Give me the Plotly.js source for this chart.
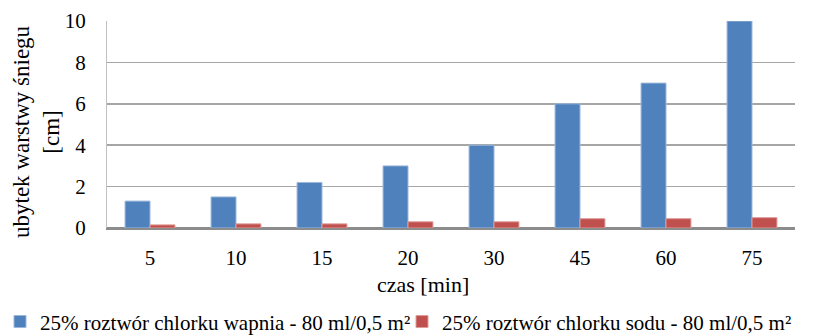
<!DOCTYPE html>
<html>
<head>
<meta charset="utf-8">
<script src="https://cdn.plot.ly/plotly-3.0.1.min.js"></script>
<style>html,body{margin:0;padding:0;background:#fff;}#chart{width:820px;height:336px;}</style>
</head>
<body>
<div id="chart"></div>
<script>
var categories = ["5", "10", "15", "20", "30", "45", "60", "75"];
var calciumValues = [1.3, 1.5, 2.2, 3.0, 4.0, 6.0, 7.0, 10.0];
var sodiumValues = [0.15, 0.2, 0.2, 0.3, 0.3, 0.45, 0.45, 0.5];
var seriesNames = ["25% roztwór chlorku wapnia - 80 ml/0,5 m²", "25% roztwór chlorku sodu - 80 ml/0,5 m²"];
var yTickValues = [0, 2, 4, 6, 8, 10];
var yTitle = "ubytek warstwy śniegu<br>[cm]";
var xTitle = "czas [min]";

var FONT = "Liberation Serif";

var traces = [
  {type: "bar", x: categories, y: calciumValues, name: seriesNames[0], legend: "legend",
   marker: {color: "#4F81BD", line: {color: "#9DB7DA", width: 1}}},
  {type: "bar", x: categories, y: sodiumValues, name: seriesNames[1], legend: "legend2",
   marker: {color: "#C0504D", line: {color: "#DE9C9A", width: 1}}}
];

var legendBase = {orientation: "h", xref: "container", yref: "container", y: 0.042,
  xanchor: "left", yanchor: "middle", font: {family: FONT, size: 21, color: "#000"},
  itemwidth: 30, bgcolor: "rgba(0,0,0,0)", borderwidth: 0};

var layout = {
  width: 820, height: 336,
  margin: {l: 107, r: 25, t: 21, b: 108},
  paper_bgcolor: "#fff", plot_bgcolor: "#fff",
  barmode: "group", bargap: 0.42, bargroupgap: 0,
  font: {family: FONT, size: 21, color: "#000"},
  showlegend: true,
  legend: Object.assign({}, legendBase, {x: -17 / 820}),
  legend2: Object.assign({}, legendBase, {x: 402 / 820}),
  xaxis: {type: "category", showgrid: false, zeroline: false, showline: true,
          linecolor: "#8c8c8c", linewidth: 2, ticks: "", ticklabelstandoff: 10,
          tickfont: {family: FONT, size: 21}},
  yaxis: {range: [0, 10], tickvals: yTickValues, showgrid: true, gridcolor: "#a6a6a6", gridwidth: 1.5,
          zeroline: true, zerolinecolor: "#8c8c8c", zerolinewidth: 2,
          showline: true, linecolor: "#c0c0c0", linewidth: 1, ticks: "", ticklabelstandoff: 16,
          tickfont: {family: FONT, size: 21}},
  annotations: [
    {text: yTitle, xref: "paper", yref: "paper", x: -0.1017, y: 0.464, xanchor: "center", yanchor: "middle",
     textangle: -90, showarrow: false, font: {family: FONT, size: 23, color: "#000"}},
    {text: xTitle, xref: "paper", yref: "paper", x: 0.459, y: -0.275, xanchor: "center", yanchor: "middle",
     showarrow: false, font: {family: FONT, size: 22, color: "#000"}}
  ]
};

Plotly.newPlot("chart", traces, layout, {displayModeBar: false, staticPlot: true});
</script>
</body>
</html>
